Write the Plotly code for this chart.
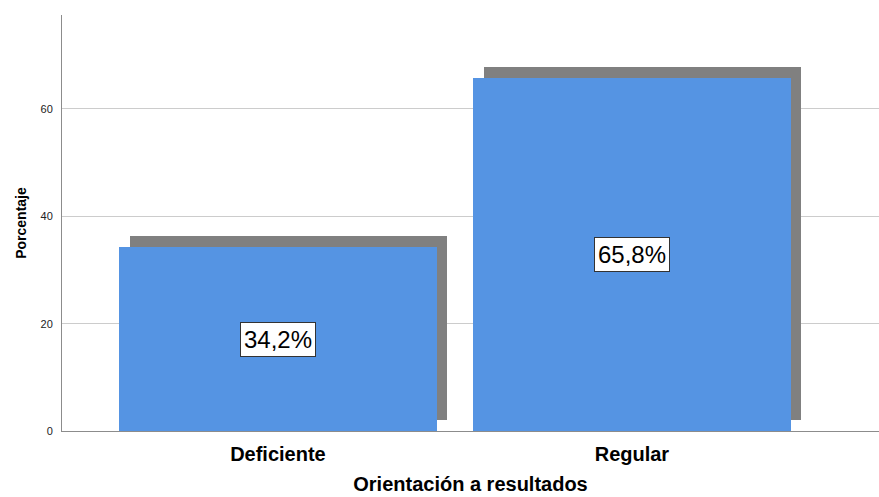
import plotly.graph_objects as go

# Data
categories = ["Deficiente", "Regular"]
percentages = [34.2, 65.8]

positions = list(range(len(categories)))
bar_width = 0.898
shadow_dx = 0.03
shadow_dy = 2.1

font_family = "Arial, Liberation Sans, sans-serif"

fig = go.Figure()

# Drop shadow behind each bar
fig.add_trace(go.Bar(
    x=[p + shadow_dx for p in positions],
    y=percentages,
    base=[shadow_dy] * len(percentages),
    width=bar_width,
    marker=dict(color="#808080", line=dict(width=0)),
    hoverinfo="skip",
    showlegend=False,
))

# Main bars
fig.add_trace(go.Bar(
    x=positions,
    y=percentages,
    width=bar_width,
    marker=dict(color="#5594e3", line=dict(width=0)),
    showlegend=False,
))

# Value labels in the middle of each bar
for p, v in zip(positions, percentages):
    fig.add_annotation(
        x=p, y=v / 2,
        text=f"{v:.1f}%".replace(".", ","),
        showarrow=False,
        font=dict(family=font_family, size=24, color="black"),
        bgcolor="white",
        bordercolor="#333333",
        borderwidth=1,
        borderpad=3,
    )

fig.update_layout(
    width=879, height=497,
    margin=dict(l=62, r=0, t=15, b=66),
    paper_bgcolor="white",
    plot_bgcolor="white",
    barmode="overlay",
    bargap=0,
    font=dict(family=font_family, color="black"),
    xaxis=dict(
        range=[-0.610, 1.698],
        tickmode="array",
        tickvals=positions,
        ticktext=[f"<b>{c}</b>" for c in categories],
        tickfont=dict(size=20, color="black"),
        showgrid=False,
        zeroline=False,
        showline=True,
        linecolor="#8c8c8c",
        linewidth=1,
        ticks="",
        ticklabelstandoff=5,
        title=dict(text="<b>Orientación a resultados</b>",
                   font=dict(size=20, color="black"), standoff=12),
    ),
    yaxis=dict(
        range=[0, 77.5],
        tickmode="array",
        tickvals=[0, 20, 40, 60],
        tickfont=dict(size=11, color="#222222"),
        showgrid=True,
        gridcolor="#cccccc",
        gridwidth=1,
        zeroline=False,
        showline=True,
        linecolor="#8c8c8c",
        linewidth=1,
        ticks="",
        ticklabelstandoff=6,
        title=dict(text="<b>Porcentaje</b>",
                   font=dict(size=14, color="black"), standoff=10),
    ),
)

fig.write_html("out.html")
